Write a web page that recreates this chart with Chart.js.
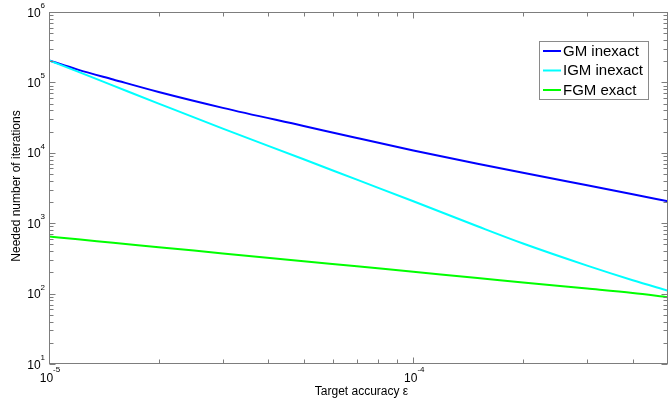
<!DOCTYPE html>
<html>
<head>
<meta charset="utf-8">
<script src="https://cdn.jsdelivr.net/npm/chart.js@4/dist/chart.umd.min.js"></script>
<style>
  html, body { margin: 0; padding: 0; background: #fff; }
  canvas { display: block; }
</style>
</head>
<body>
<canvas id="c" width="670" height="403"></canvas>
<script>
// Target accuracy values (x) and the iteration counts of each method (y)
const epsilon    = [1e-5, 1.2e-5, 1.5e-5, 2e-5, 3e-5, 5e-5, 7e-5, 1e-4, 1.5e-4, 2e-4, 3e-4, 4e-4, 5e-4];
const gmInexact  = [2.05e5, 1.52e5, 1.1e5, 7.3e4, 4.35e4, 2.4e4, 1.62e4, 1.08e4, 7.0e3, 5.2e3, 3.45e3, 2.58e3, 2.05e3];
const igmInexact = [2.05e5, 1.42e5, 9.0e4, 5.0e4, 2.2e4, 8.1e3, 4.15e3, 2.05e3, 905, 515, 250, 155, 110];
const fgmExact   = [645, 590, 527, 457, 372, 288, 244, 204, 167, 144, 118, 102, 89];

const seriesLabels = ['GM inexact', 'IGM inexact', 'FGM exact'];
const seriesColors = ['#0000ff', '#00ffff', '#00ff00'];

// Decade tick positions and their labels (base^exponent)
const xMajorTicks = [1e-5, 1e-4];
const xTickLabels = ['10^-5', '10^-4'];
const yMajorTicks = [1e1, 1e2, 1e3, 1e4, 1e5, 1e6];
const yTickLabels = ['10^1', '10^2', '10^3', '10^4', '10^5', '10^6'];
const minorMultipliers = [2, 3, 4, 5, 6, 7, 8, 9];

const xTitle = 'Target accuracy ε';
const yTitle = 'Needed number of iterations';

const AXIS_COLOR = '#7d7d7d';
const FONT = '"Liberation Sans", Arial, sans-serif';

function points(ys) {
  return epsilon.map((e, i) => ({ x: e, y: ys[i] }));
}

function drawPowerLabel(ctx, text, x, y, align, kind) {
  const [base, exp] = text.split('^');
  ctx.font = '12px ' + FONT;
  const bw = ctx.measureText(base).width;
  ctx.font = '8px ' + FONT;
  const ew = ctx.measureText(exp).width;
  let left;
  if (align === 'right') left = x - bw - ew;
  else left = x - (bw + ew) / 2;
  ctx.textAlign = 'left';
  ctx.textBaseline = 'alphabetic';
  ctx.font = '12px ' + FONT;
  if (kind === 'y') {
    ctx.fillText(base, left, y + 4.5);
    ctx.font = '8px ' + FONT;
    ctx.fillText(exp, left + bw, y - 4);
  } else {
    ctx.fillText(base, left, y + 18);
    ctx.font = '8px ' + FONT;
    ctx.fillText(exp, left + bw, y + 8);
  }
}

const frame = {
  id: 'frame',
  afterDraw(chart) {
    const { ctx, chartArea: a, scales: { x, y } } = chart;
    const L = Math.round(a.left) + 0.5, R = Math.round(a.right) - 0.5;
    const T = Math.round(a.top) + 0.5, B = Math.round(a.bottom) - 0.5;
    ctx.save();
    ctx.strokeStyle = AXIS_COLOR;
    ctx.lineWidth = 1;
    ctx.strokeRect(L, T, R - L, B - T);

    // inward ticks on all four sides
    ctx.beginPath();
    const decades = (lo, hi) => {
      const out = [];
      for (let d = Math.floor(Math.log10(lo)); d <= Math.ceil(Math.log10(hi)); d++) out.push(d);
      return out;
    };
    for (const d of decades(x.min, x.max)) {
      for (const m of [1].concat(minorMultipliers)) {
        const v = Number((m * Math.pow(10, d)).toPrecision(6));
        if (v < x.min || v > x.max) continue;
        const px = Math.round(x.getPixelForValue(v)) + 0.5;
        if (px > R) continue;
        const len = m === 1 ? 6 : 4;
        ctx.moveTo(px, B); ctx.lineTo(px, B - len);
        ctx.moveTo(px, T); ctx.lineTo(px, T + len);
      }
    }
    for (const d of decades(y.min, y.max)) {
      for (const m of [1].concat(minorMultipliers)) {
        const v = Number((m * Math.pow(10, d)).toPrecision(6));
        if (v < y.min || v > y.max) continue;
        const py = Math.round(y.getPixelForValue(v)) + 0.5;
        const len = m === 1 ? 6 : 4;
        ctx.moveTo(L, py); ctx.lineTo(L + len, py);
        ctx.moveTo(R, py); ctx.lineTo(R - len, py);
      }
    }
    ctx.stroke();

    // tick labels
    ctx.fillStyle = '#000';
    xMajorTicks.forEach((v, i) => {
      drawPowerLabel(ctx, xTickLabels[i], x.getPixelForValue(v) + 1, a.bottom, 'center', 'x');
    });
    yMajorTicks.forEach((v, i) => {
      drawPowerLabel(ctx, yTickLabels[i], a.left - 4, y.getPixelForValue(v), 'right', 'y');
    });

    // axis titles
    ctx.font = '12px ' + FONT;
    ctx.textAlign = 'center';
    ctx.textBaseline = 'alphabetic';
    ctx.fillText(xTitle, (a.left + a.right) / 2 + 3, a.bottom + 31);
    ctx.save();
    ctx.translate(17, (a.top + a.bottom) / 2 - 2);
    ctx.rotate(-Math.PI / 2);
    ctx.textBaseline = 'middle';
    ctx.fillText(yTitle, 0, 0);
    ctx.restore();

    // legend box
    const bx = 539.5, by = 41.5, bw = 109, bh = 58;
    ctx.fillStyle = '#fff';
    ctx.fillRect(bx, by, bw, bh);
    ctx.strokeStyle = '#8a8a8a';
    ctx.strokeRect(bx, by, bw, bh);
    ctx.font = '15px ' + FONT;
    ctx.textAlign = 'left';
    ctx.textBaseline = 'middle';
    chart.data.datasets.forEach((ds, i) => {
      const ry = 51 + i * 19.5;
      ctx.strokeStyle = ds.borderColor;
      ctx.lineWidth = 2;
      ctx.beginPath();
      ctx.moveTo(543, ry); ctx.lineTo(561, ry);
      ctx.stroke();
      ctx.fillStyle = '#000';
      ctx.fillText(ds.label, 563, ry + 0.5);
    });
    ctx.restore();
  }
};

const seriesValues = [gmInexact, igmInexact, fgmExact];

new Chart(document.getElementById('c'), {
  type: 'line',
  data: {
    datasets: seriesValues.map((vals, i) => ({
      label: seriesLabels[i],
      data: points(vals),
      borderColor: seriesColors[i],
      backgroundColor: seriesColors[i],
      borderWidth: 2,
      pointRadius: 0,
      fill: false,
      cubicInterpolationMode: 'monotone',
      order: 3 - i
    }))
  },
  options: {
    responsive: false,
    animation: false,
    devicePixelRatio: 1,
    layout: { padding: { left: 49, top: 12, right: 2, bottom: 39 } },
    scales: {
      x: { type: 'logarithmic', display: false, min: 1e-5, max: 5e-4 },
      y: { type: 'logarithmic', display: false, min: 10, max: 1e6 }
    },
    plugins: { legend: { display: false }, tooltip: { enabled: false } }
  },
  plugins: [frame]
});
</script>
</body>
</html>
